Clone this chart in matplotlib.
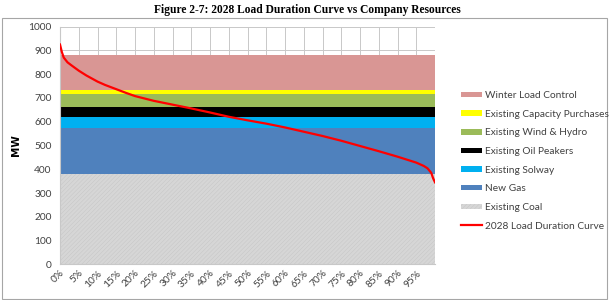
import matplotlib.pyplot as plt
from matplotlib.patches import Rectangle

plt.rcParams['font.family'] = ['Lato', 'DejaVu Sans']
plt.rcParams['hatch.linewidth'] = 0.3

# resource blocks (MW), bottom to top
resources = ['Existing Coal', 'New Gas', 'Existing Solway', 'Existing Oil Peakers',
             'Existing Wind & Hydro', 'Existing Capacity Purchases', 'Winter Load Control']
capacity = [380, 195, 45, 42, 54, 19, 147]
colors = ['#d6d6d6', '#4f81bd', '#00b0f0', '#000000', '#9bbb59', '#ffff00', '#d99694']

# load duration curve (percent of hours, MW)
ldc_pct = [0, 0.5, 1, 2, 3, 5, 7, 10, 12, 15, 17.5, 20, 25, 30, 35, 40, 45, 50,
           55, 60, 65, 70, 75, 80, 85, 90, 95, 97, 98, 99, 99.5, 100]
ldc_mw = [925, 893, 870, 850, 838, 815, 795, 769, 755, 737, 722, 708, 688, 672, 656,
          639, 621, 606, 592, 576, 558, 540, 520, 498, 476, 453, 428, 414, 404, 385, 362, 345]

tick_pct = list(range(0, 100, 5))

fig = plt.figure(figsize=(6.15, 3.0), dpi=100)
fig.text(0.5, 0.968, 'Figure 2-7: 2028 Load Duration Curve vs Company Resources',
         ha='center', va='center', fontsize=8.3, fontweight='bold', family='Liberation Serif')
fig.patches.append(Rectangle((2 / 615, 1 / 300), 605 / 615, 281 / 300, transform=fig.transFigure,
                             fill=False, edgecolor='#a6a6a6', linewidth=0.8))

ax = fig.add_axes([60 / 615, 1 - 264.3 / 300, 375 / 615, 237.6 / 300])

x = [0, 100]
stacks = ax.stackplot(x, *[[c, c] for c in capacity], colors=colors, labels=resources, zorder=2)
stacks[0].set_hatch('////////')
stacks[0].set_edgecolor('#c4c4c4')
stacks[0].set_linewidth(0)

line, = ax.plot(ldc_pct, ldc_mw, color='#ff0000', lw=1.6, zorder=3,
                label='2028 Load Duration Curve')

ax.set_xlim(0, 100)
ax.set_ylim(0, 1000)
ax.set_yticks(range(0, 1001, 100))
ax.set_xticks(tick_pct + [100])
ax.set_xticklabels([f'{p}%' for p in tick_pct] + [''], rotation=45, ha='right',
                   rotation_mode='anchor', fontsize=7.3, color='#404040')
ax.tick_params(axis='y', labelsize=7.3, colors='#404040', length=0, pad=6)
ax.tick_params(axis='x', length=0, pad=3)
ax.grid(True, color='#c8c8c8', lw=0.7, zorder=0)
ax.set_axisbelow(True)
for s in ['top', 'right']:
    ax.spines[s].set_visible(False)
ax.spines['left'].set_color('#c8c8c8')
ax.spines['bottom'].set_color('#c8c8c8')
ax.set_ylabel('MW', fontsize=7.5, fontweight='bold', family='DejaVu Sans', labelpad=5)

hs = list(stacks)[::-1] + [line]
ls = resources[::-1] + ['2028 Load Duration Curve']
fig.legend(hs, ls, loc='upper left', bbox_to_anchor=(452 / 615, 1 - 82 / 300), frameon=False,
           fontsize=7.3, handlelength=2.1, handleheight=0.45, labelspacing=0.95,
           handletextpad=0.25, labelcolor='#404040')

fig.savefig('out.png', dpi=100)
